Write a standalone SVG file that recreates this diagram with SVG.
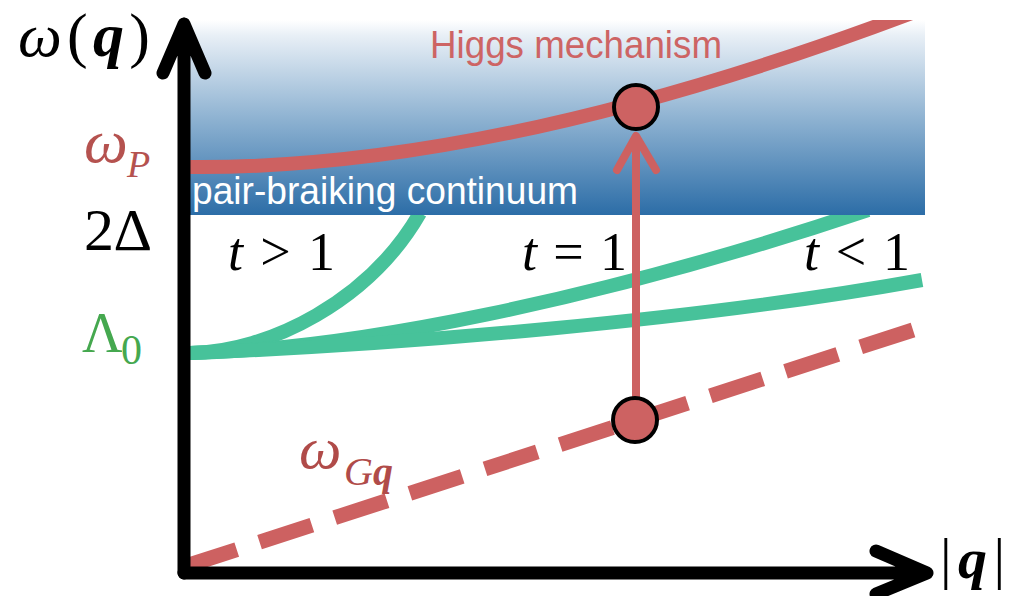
<svg xmlns="http://www.w3.org/2000/svg" width="1009" height="596" viewBox="0 0 1009 596">
<defs>
<linearGradient id="bg" x1="0" y1="0" x2="0" y2="1">
<stop offset="0" stop-color="#ffffff"/>
<stop offset="0.08" stop-color="#e8eff6"/>
<stop offset="0.5" stop-color="#8fb3d2"/>
<stop offset="1" stop-color="#2c6da7"/>
</linearGradient>
<clipPath id="boxclip"><rect x="0" y="20" width="1009" height="576"/></clipPath>
<style>
.math{font-family:"Liberation Serif","DejaVu Serif",serif;}
.it{font-style:italic;}
.bi{font-style:italic;font-weight:bold;}
.sans{font-family:"Liberation Sans",Arial,sans-serif;}
.green{fill:none;stroke:#47c29a;stroke-width:14;stroke-linecap:butt;}
.axis{fill:none;stroke:#000;stroke-width:13;stroke-linecap:round;stroke-linejoin:round;}
.red{stroke:#cd6161;}
.dot{fill:#cd6262;stroke:#000;stroke-width:4;}
</style>
</defs>
<rect width="1009" height="596" fill="#fff"/>
<g id="curves-green">
<path class="green" d="M190,353 C270,352 370,300 420,213"/>
<path class="green" d="M190,353 C350,350 600,300 868,210"/>
<path class="green" d="M190,353 C400,345 700,320 922,280"/>
</g>
<g id="continuum">
<rect x="184" y="20" width="741" height="195" fill="url(#bg)"/>
<text class="sans" x="192" y="204" font-size="38" fill="#fff" textLength="386" lengthAdjust="spacingAndGlyphs">pair-braiking continuum</text>
</g>
<g id="connectors">
<path d="M190,167 Q500,170 925,8" fill="none" class="red" stroke-width="14" clip-path="url(#boxclip)"/>
<path d="M913,330 L186,566" fill="none" class="red" stroke-width="15" stroke-dasharray="55 24"/>
<path d="M636,398 L636,140 M617,170 L636,136 L656,170" fill="none" class="red" stroke-width="8" stroke-linecap="round" stroke-linejoin="round"/>
</g>
<g id="axes">
<path class="axis" d="M184,573 L184,24 M163,73 L184,24 L205,73"/>
<path class="axis" d="M184,573 L926,573 M876,551 L927,573 L876,594"/>
</g>
<g id="node-higgs">
<circle class="dot" cx="636" cy="107" r="22"/>
<text class="sans" x="430" y="58" font-size="38" fill="#cd6464" textLength="292" lengthAdjust="spacingAndGlyphs">Higgs mechanism</text>
</g>
<g id="node-goldstone">
<circle class="dot" cx="635" cy="420" r="22"/>
</g>
<g id="labels" class="math">
<text x="18" y="56" font-size="62" textLength="132" lengthAdjust="spacing"><tspan class="it">ω</tspan>(<tspan class="bi">q</tspan>)</text>
<text x="84" y="162" font-size="62" fill="#b5524f"><tspan class="it">ω</tspan><tspan class="it" x="127" y="177" font-size="38">P</tspan></text>
<text x="84" y="250" font-size="60" textLength="68" lengthAdjust="spacing">2Δ</text>
<text x="82" y="352" font-size="56" fill="#45a84f">Λ<tspan x="121" y="364" font-size="42">0</tspan></text>
<text x="228" y="270" font-size="54" textLength="107" lengthAdjust="spacing"><tspan class="it">t</tspan> &gt; 1</text>
<text x="522" y="270" font-size="54" textLength="105" lengthAdjust="spacing"><tspan class="it">t</tspan> = 1</text>
<text x="804" y="270" font-size="54" textLength="106" lengthAdjust="spacing"><tspan class="it">t</tspan> &lt; 1</text>
<text x="299" y="468" font-size="60" fill="#b04b49"><tspan class="it">ω</tspan><tspan x="344" y="485" font-size="40" class="it">G</tspan><tspan class="bi" font-size="40">q</tspan></text>
<text x="940" y="578" font-size="58" textLength="65" lengthAdjust="spacing">|<tspan class="bi">q</tspan>|</text>
</g>
</svg>
